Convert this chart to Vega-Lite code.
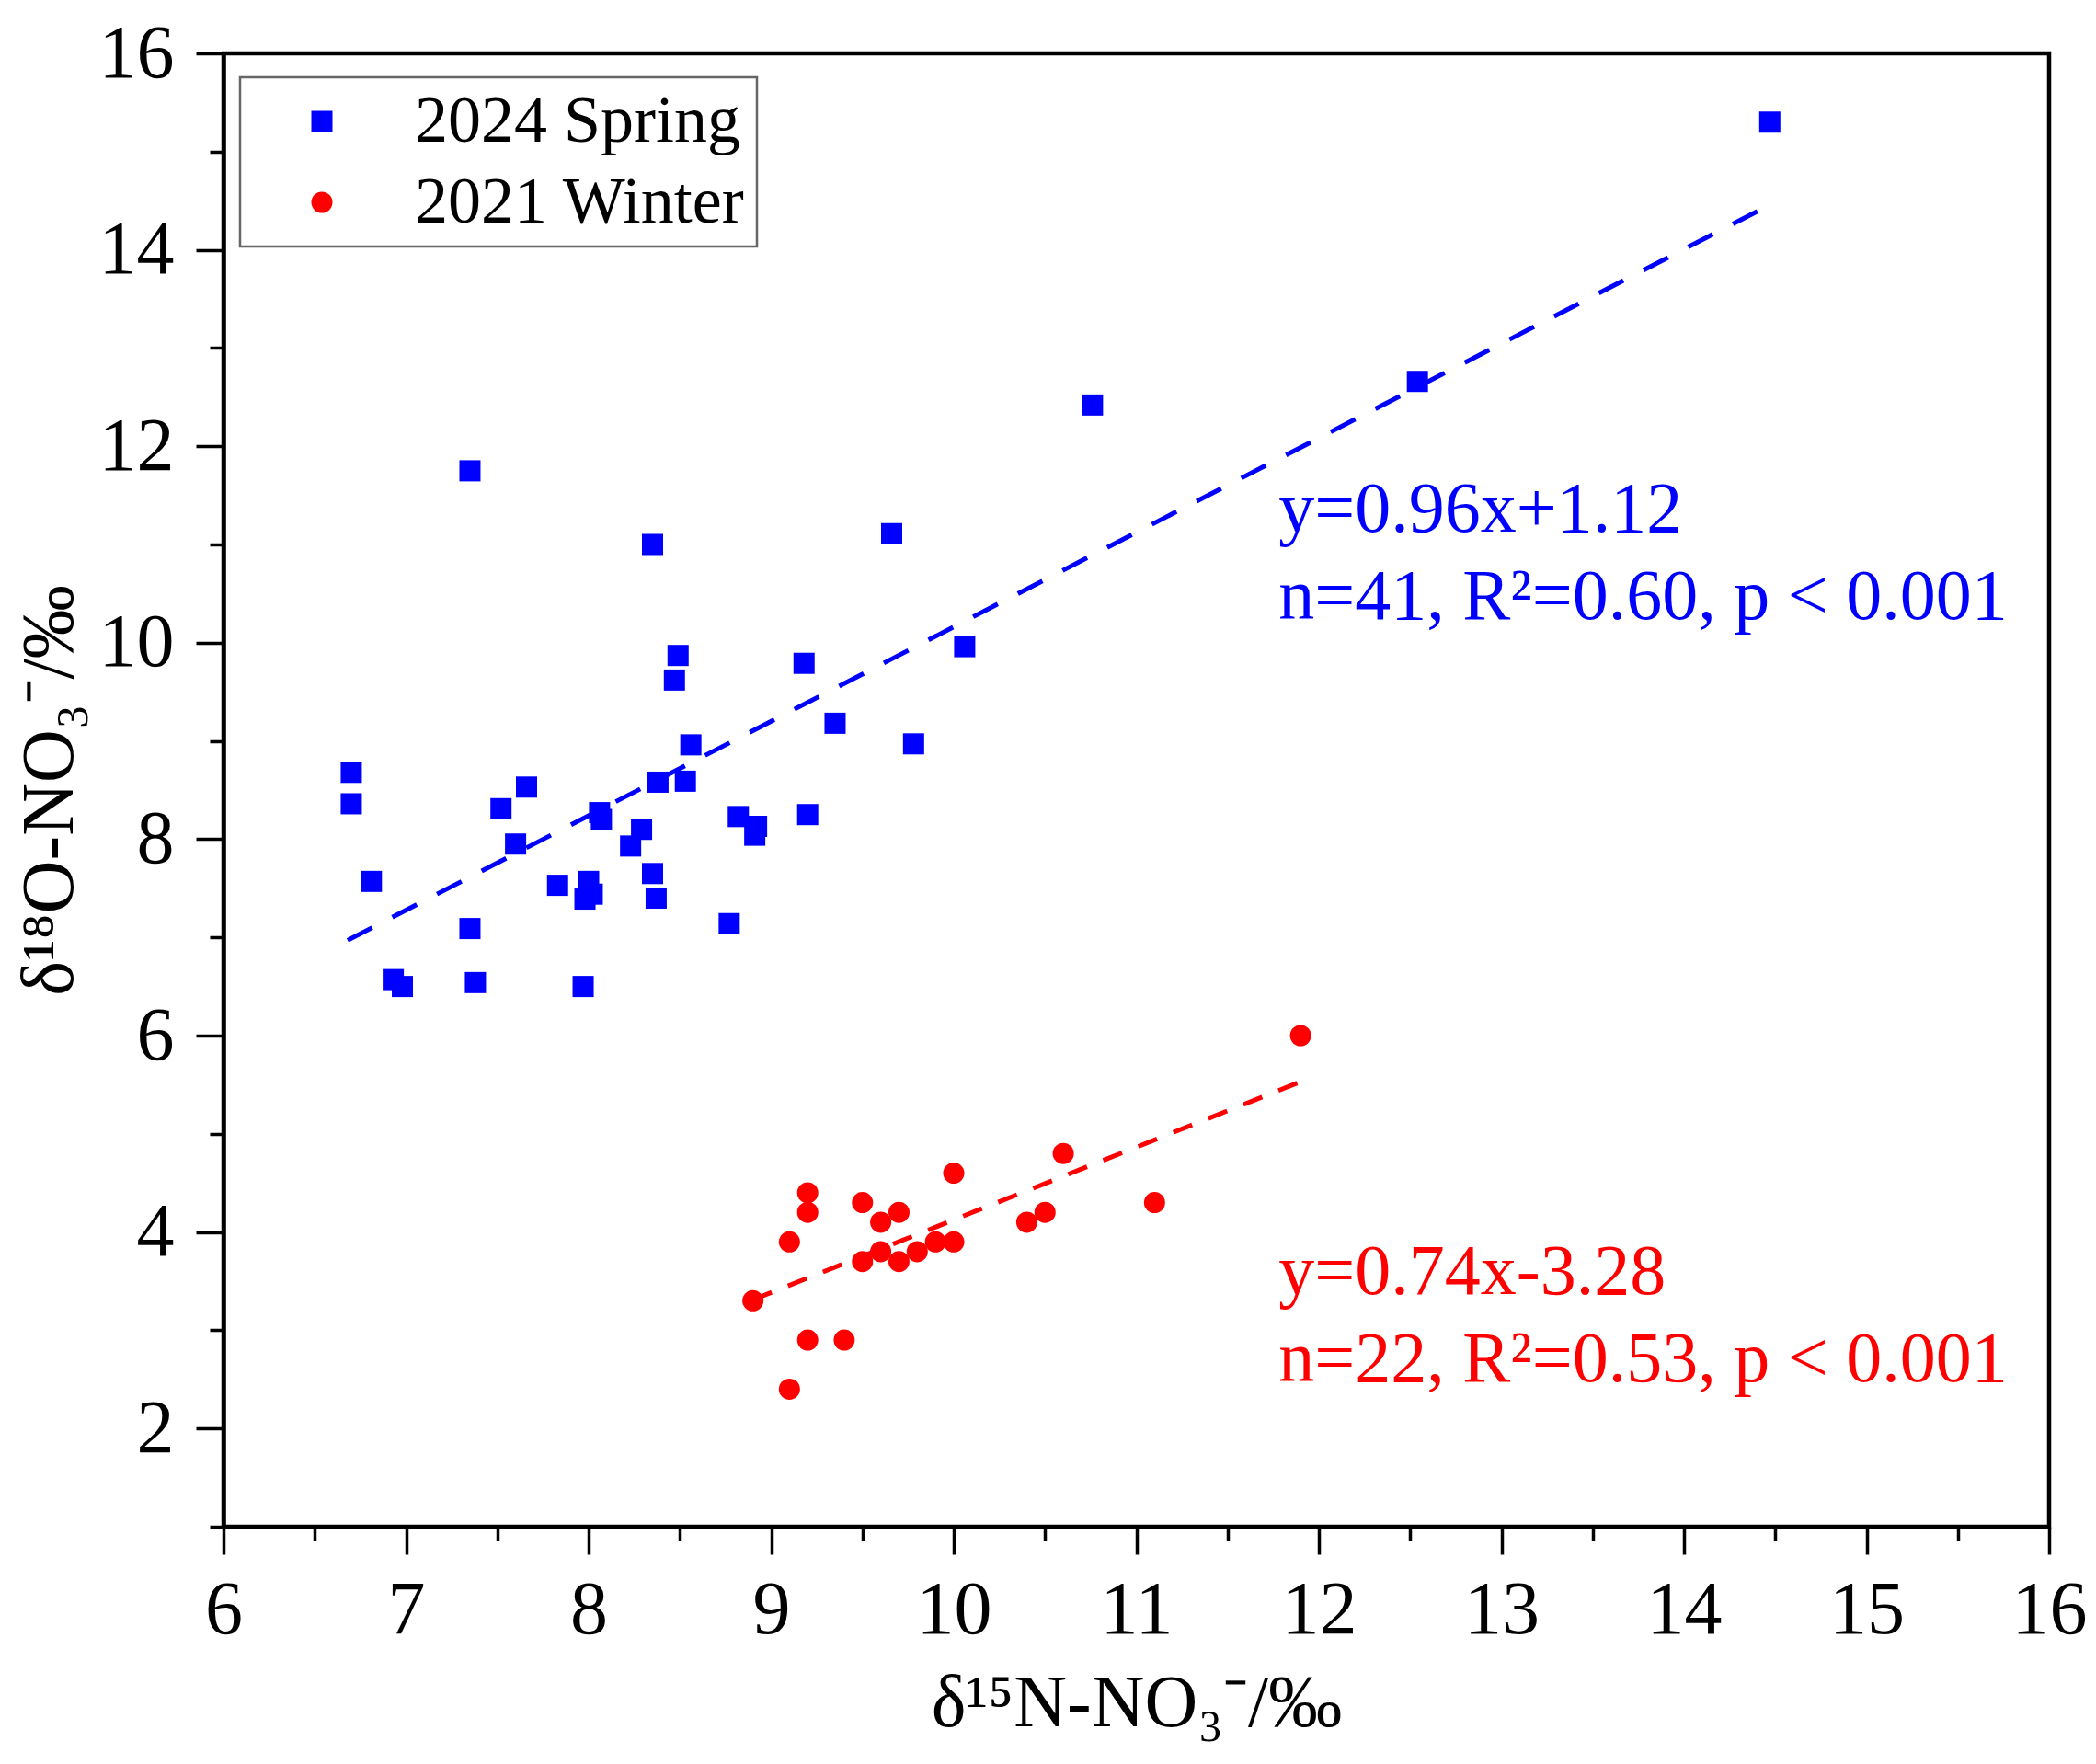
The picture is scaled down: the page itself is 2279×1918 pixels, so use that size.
{
  "$schema": "https://vega.github.io/schema/vega-lite/v6.json",
  "width": 1985,
  "height": 1602,
  "autosize": {"type": "none"},
  "padding": {"left": 243, "top": 58, "right": 51, "bottom": 258},
  "background": "white",
  "datasets": {
    "pts": [
      {"g": "2024 Spring", "n15": 6.70, "o18": 8.68},
      {"g": "2024 Spring", "n15": 6.70, "o18": 8.36},
      {"g": "2024 Spring", "n15": 6.81, "o18": 7.57},
      {"g": "2024 Spring", "n15": 6.93, "o18": 6.57},
      {"g": "2024 Spring", "n15": 6.98, "o18": 6.50},
      {"g": "2024 Spring", "n15": 7.35, "o18": 11.75},
      {"g": "2024 Spring", "n15": 7.35, "o18": 7.09},
      {"g": "2024 Spring", "n15": 7.38, "o18": 6.54},
      {"g": "2024 Spring", "n15": 7.52, "o18": 8.31},
      {"g": "2024 Spring", "n15": 7.60, "o18": 7.95},
      {"g": "2024 Spring", "n15": 7.66, "o18": 8.53},
      {"g": "2024 Spring", "n15": 7.83, "o18": 7.53},
      {"g": "2024 Spring", "n15": 7.97, "o18": 6.50},
      {"g": "2024 Spring", "n15": 7.98, "o18": 7.39},
      {"g": "2024 Spring", "n15": 8.00, "o18": 7.57},
      {"g": "2024 Spring", "n15": 8.02, "o18": 7.44},
      {"g": "2024 Spring", "n15": 8.06, "o18": 8.27},
      {"g": "2024 Spring", "n15": 8.07, "o18": 8.20},
      {"g": "2024 Spring", "n15": 8.23, "o18": 7.93},
      {"g": "2024 Spring", "n15": 8.29, "o18": 8.10},
      {"g": "2024 Spring", "n15": 8.35, "o18": 11.00},
      {"g": "2024 Spring", "n15": 8.35, "o18": 7.65},
      {"g": "2024 Spring", "n15": 8.37, "o18": 7.40},
      {"g": "2024 Spring", "n15": 8.38, "o18": 8.58},
      {"g": "2024 Spring", "n15": 8.47, "o18": 9.62},
      {"g": "2024 Spring", "n15": 8.49, "o18": 9.87},
      {"g": "2024 Spring", "n15": 8.53, "o18": 8.59},
      {"g": "2024 Spring", "n15": 8.56, "o18": 8.96},
      {"g": "2024 Spring", "n15": 8.77, "o18": 7.14},
      {"g": "2024 Spring", "n15": 8.82, "o18": 8.23},
      {"g": "2024 Spring", "n15": 8.91, "o18": 8.04},
      {"g": "2024 Spring", "n15": 8.92, "o18": 8.13},
      {"g": "2024 Spring", "n15": 9.18, "o18": 9.79},
      {"g": "2024 Spring", "n15": 9.20, "o18": 8.25},
      {"g": "2024 Spring", "n15": 9.35, "o18": 9.18},
      {"g": "2024 Spring", "n15": 9.66, "o18": 11.11},
      {"g": "2024 Spring", "n15": 9.78, "o18": 8.97},
      {"g": "2024 Spring", "n15": 10.06, "o18": 9.96},
      {"g": "2024 Spring", "n15": 10.76, "o18": 12.42},
      {"g": "2024 Spring", "n15": 12.54, "o18": 12.66},
      {"g": "2024 Spring", "n15": 14.47, "o18": 15.30},
      {"g": "2021 Winter", "n15": 8.90, "o18": 3.30},
      {"g": "2021 Winter", "n15": 9.10, "o18": 3.90},
      {"g": "2021 Winter", "n15": 9.10, "o18": 2.40},
      {"g": "2021 Winter", "n15": 9.20, "o18": 4.40},
      {"g": "2021 Winter", "n15": 9.20, "o18": 4.20},
      {"g": "2021 Winter", "n15": 9.20, "o18": 2.90},
      {"g": "2021 Winter", "n15": 9.40, "o18": 2.90},
      {"g": "2021 Winter", "n15": 9.50, "o18": 4.30},
      {"g": "2021 Winter", "n15": 9.50, "o18": 3.70},
      {"g": "2021 Winter", "n15": 9.60, "o18": 4.10},
      {"g": "2021 Winter", "n15": 9.60, "o18": 3.80},
      {"g": "2021 Winter", "n15": 9.70, "o18": 4.20},
      {"g": "2021 Winter", "n15": 9.70, "o18": 3.70},
      {"g": "2021 Winter", "n15": 9.80, "o18": 3.80},
      {"g": "2021 Winter", "n15": 9.90, "o18": 3.90},
      {"g": "2021 Winter", "n15": 10.00, "o18": 4.60},
      {"g": "2021 Winter", "n15": 10.00, "o18": 3.90},
      {"g": "2021 Winter", "n15": 10.40, "o18": 4.10},
      {"g": "2021 Winter", "n15": 10.50, "o18": 4.20},
      {"g": "2021 Winter", "n15": 10.60, "o18": 4.80},
      {"g": "2021 Winter", "n15": 11.10, "o18": 4.30},
      {"g": "2021 Winter", "n15": 11.90, "o18": 6.00}
    ],
    "fit": [
      {"g": "2024 Spring", "n15": 6.68, "o18": 6.97},
      {"g": "2024 Spring", "n15": 14.41, "o18": 14.40},
      {"g": "2021 Winter", "n15": 8.90, "o18": 3.31},
      {"g": "2021 Winter", "n15": 11.90, "o18": 5.53}
    ],
    "notes": [
      {"g": "2024 Spring", "n15": 11.78, "o18": 11.13, "label": "y=0.96x+1.12"},
      {"g": "2024 Spring", "n15": 11.78, "o18": 10.24, "label": "n=41, R²=0.60, p < 0.001"},
      {"g": "2021 Winter", "n15": 11.78, "o18": 3.37, "label": "y=0.74x-3.28"},
      {"g": "2021 Winter", "n15": 11.78, "o18": 2.48, "label": "n=22, R²=0.53, p < 0.001"}
    ]
  },
  "layer": [
    {
      "data": {"name": "pts"},
      "mark": {"type": "point", "opacity": 0},
      "encoding": {
        "x": {
          "field": "n15", "type": "quantitative",
          "scale": {"domain": [6, 16], "nice": false, "zero": false},
          "axis": {"orient": "bottom", "values": [6.5, 7.5, 8.5, 9.5, 10.5, 11.5, 12.5, 13.5, 14.5, 15.5], "labels": false, "domain": false, "tickSize": 15, "title": null}
        },
        "y": {
          "field": "o18", "type": "quantitative",
          "scale": {"domain": [1, 16], "nice": false, "zero": false},
          "axis": {"orient": "left", "values": [1, 3, 5, 7, 9, 11, 13, 15], "labels": false, "domain": false, "tickSize": 15, "title": null}
        }
      }
    },
    {
      "data": {"name": "fit"},
      "transform": [{"filter": "datum.g === '2024 Spring'"}],
      "mark": {"type": "line", "color": "#0000ff", "strokeWidth": 5, "strokeDash": [30, 24.7]},
      "encoding": {
        "x": {"field": "n15", "type": "quantitative", "axis": null},
        "y": {"field": "o18", "type": "quantitative", "axis": null}
      }
    },
    {
      "data": {"name": "fit"},
      "transform": [{"filter": "datum.g === '2021 Winter'"}],
      "mark": {"type": "line", "color": "#ff0000", "strokeWidth": 5, "strokeDash": [22, 19]},
      "encoding": {
        "x": {"field": "n15", "type": "quantitative", "axis": null},
        "y": {"field": "o18", "type": "quantitative", "axis": null}
      }
    },
    {
      "data": {"name": "pts"},
      "mark": {"type": "point", "filled": true, "opacity": 1, "size": 529},
      "encoding": {
        "x": {
          "field": "n15", "type": "quantitative",
          "axis": {"orient": "bottom", "values": [6, 7, 8, 9, 10, 11, 12, 13, 14, 15, 16], "title": "δ¹⁵N-NO₃⁻/‰", "labelPadding": 20, "titlePadding": 22}
        },
        "y": {
          "field": "o18", "type": "quantitative",
          "axis": {"orient": "left", "values": [2, 4, 6, 8, 10, 12, 14, 16], "title": "δ¹⁸O-NO₃⁻/‰", "labelPadding": 24, "titlePadding": 12}
        },
        "color": {
          "field": "g", "type": "nominal", "title": null,
          "scale": {"domain": ["2024 Spring", "2021 Winter"], "range": ["#0000ff", "#ff0000"]}
        },
        "shape": {
          "field": "g", "type": "nominal", "title": null,
          "scale": {"domain": ["2024 Spring", "2021 Winter"], "range": ["square", "circle"]}
        }
      }
    },
    {
      "data": {"name": "notes"},
      "transform": [{"filter": "datum.g === '2024 Spring'"}],
      "mark": {"type": "text", "align": "left", "baseline": "alphabetic", "font": "Liberation Serif", "fontSize": 78, "color": "#0000ff"},
      "encoding": {
        "x": {"field": "n15", "type": "quantitative", "axis": null},
        "y": {"field": "o18", "type": "quantitative", "axis": null},
        "text": {"field": "label"}
      }
    },
    {
      "data": {"name": "notes"},
      "transform": [{"filter": "datum.g === '2021 Winter'"}],
      "mark": {"type": "text", "align": "left", "baseline": "alphabetic", "font": "Liberation Serif", "fontSize": 78, "color": "#ff0000"},
      "encoding": {
        "x": {"field": "n15", "type": "quantitative", "axis": null},
        "y": {"field": "o18", "type": "quantitative", "axis": null},
        "text": {"field": "label"}
      }
    }
  ],
  "resolve": {"axis": {"x": "independent", "y": "independent"}},
  "config": {
    "view": {"stroke": "black", "strokeWidth": 4.5},
    "axis": {
      "grid": false,
      "domainColor": "black",
      "domainWidth": 4.5,
      "tickColor": "black",
      "tickWidth": 3.5,
      "tickSize": 30,
      "labelFont": "Liberation Serif",
      "labelFontSize": 82,
      "labelColor": "black",
      "labelFlush": false,
      "labelOverlap": false,
      "titleFont": "Liberation Serif",
      "titleFontSize": 80,
      "titleFontWeight": "normal",
      "titleColor": "black"
    },
    "legend": {
      "orient": "none",
      "legendX": 18,
      "legendY": 26,
      "strokeColor": "#666666",
      "strokeWidth": 2.5,
      "fillColor": "white",
      "padding": 12,
      "labelFont": "Liberation Serif",
      "labelFontSize": 72,
      "labelColor": "black",
      "labelLimit": 0,
      "symbolSize": 529,
      "symbolStrokeWidth": 0,
      "symbolOffset": 41,
      "labelOffset": 65,
      "rowPadding": 16
    }
  }
}
